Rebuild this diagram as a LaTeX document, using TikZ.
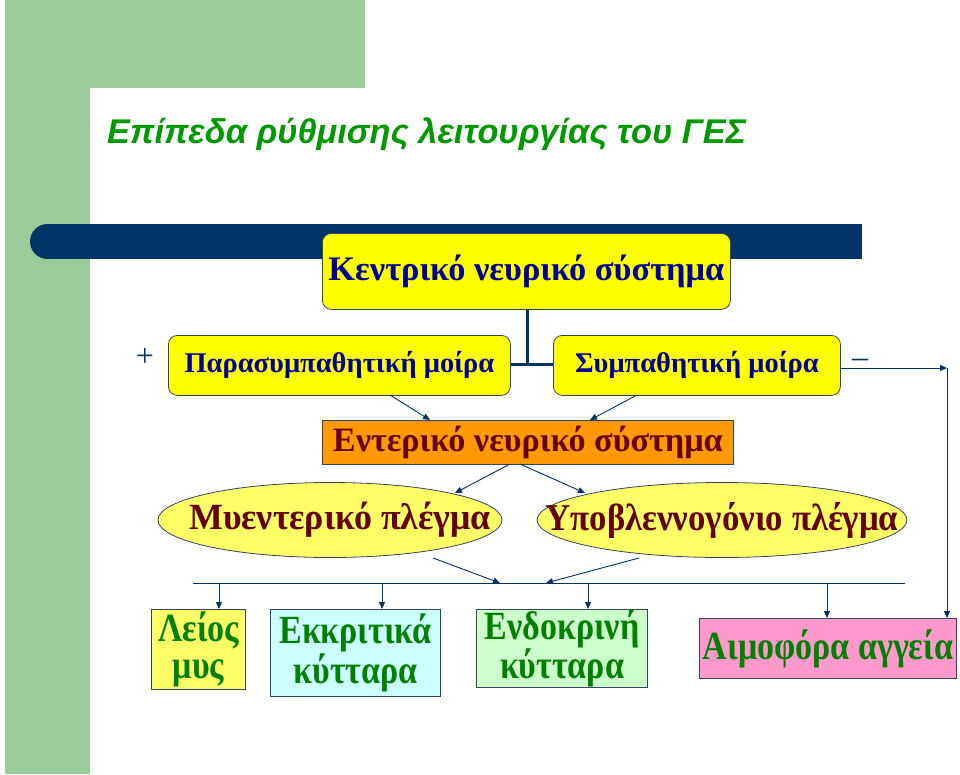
\documentclass[tikz,border=0pt]{standalone}
\usepackage{fontspec}
\setmainfont{Liberation Serif}
\newfontfamily\titlefont{Liberation Sans}
\newfontfamily\ovalfont[FakeStretch=0.92]{Liberation Serif}
\newfontfamily\ovalwidefont[FakeStretch=0.97]{Liberation Serif}
\newfontfamily\condfont[FakeStretch=0.85]{Liberation Serif}
\usetikzlibrary{shapes.geometric,arrows.meta}
\definecolor{bggreen}{HTML}{99CC99}
\definecolor{navy}{HTML}{003366}
\definecolor{ttlgreen}{HTML}{009900}
\definecolor{dblue}{HTML}{000099}
\definecolor{dred}{HTML}{660000}
\definecolor{tgreen}{HTML}{008000}
\definecolor{yfill}{HTML}{FFFF00}
\definecolor{lyfill}{HTML}{FFFF66}
\definecolor{orfill}{HTML}{FF9900}
\definecolor{cyfill}{HTML}{CCFFFF}
\definecolor{grfill}{HTML}{CCFFCC}
\definecolor{pkfill}{HTML}{FF99CC}
\definecolor{edge}{HTML}{334466}
\tikzset{
  ybox/.style={draw=edge, fill=yfill, rounded corners=9pt, line width=0.8pt, inner sep=0pt, anchor=north west, text=dblue},
  ovalnode/.style={ellipse, draw=edge, fill=lyfill, line width=0.8pt, inner sep=0pt, minimum height=75pt},
  ovaltext/.style={inner sep=0pt, font=\ovalfont\bfseries\fontsize{37.8}{39}\selectfont, text=dred},
  cellbox/.style={draw=edge, line width=1pt, inner sep=0pt, anchor=north west, font=\condfont\bfseries\fontsize{40}{37}\selectfont, text=tgreen, align=center},
  conn/.style={draw=navy, line width=0.9pt, -{Triangle[length=7pt,width=6pt]}},
}
\begin{document}
\begin{tikzpicture}[x=1pt,y=-1pt]
\useasboundingbox (0,0) rectangle (960,774);
% background
\fill[bggreen] (5,0) rectangle (365,88);
\fill[bggreen] (5,0) rectangle (90,774);
\fill[white, rounded corners=32pt] (90,88) rectangle (1100,900);
\fill[navy] (47.5,241.5) circle[radius=17.5];
\fill[navy] (47.5,224) rectangle (862,259);
% title
\node[anchor=base west, inner sep=0pt, text=ttlgreen, font=\titlefont\bfseries\itshape\fontsize{34.3}{36}\selectfont] (title) at (107,143) {Επίπεδα ρύθμισης λειτουργίας του ΓΕΣ};
% top nodes
\node[ybox, minimum width=408pt, minimum height=76pt, font=\bfseries\fontsize{34.4}{36}\selectfont] (cns) at (322,233) {Κεντρικό νευρικό σύστημα};
\node[ybox, minimum width=342pt, minimum height=60pt, font=\bfseries\fontsize{28.5}{30}\selectfont] (para) at (168,335) {Παρασυμπαθητική μοίρα};
\node[ybox, minimum width=287pt, minimum height=60pt, font=\bfseries\fontsize{28.5}{30}\selectfont] (symp) at (553,335) {Συμπαθητική μοίρα};
\coordinate (junc) at (527,364);
\draw[navy, line width=3pt] (cns.south -| junc) -- (junc);
\draw[navy, line width=3pt] (para.east |- junc) -- (symp.west |- junc);
\node[font=\fontsize{32}{34}\selectfont, text=navy, inner sep=0pt] (plus) at (145,357) {+};
\node[font=\fontsize{32}{34}\selectfont, text=navy, inner sep=0pt] (minus) at (860,363) {–};
% enteric
\node[draw=edge, fill=orfill, line width=0.8pt, inner sep=0pt, anchor=north west, minimum width=411pt, minimum height=44pt, font=\bfseries\fontsize{34.2}{36}\selectfont, text=dred] (ens) at (322,420) {Εντερικό νευρικό σύστημα};
\coordinate (p1) at (390,395);
\coordinate (p2) at (637,395);
\draw[conn] (p1) -- (430,420);
\draw[conn] (p2) -- (590,420);
% ellipses
\node[ovalnode, minimum width=344pt] (mye) at (330,520) {};
\node[ovaltext, font=\ovalwidefont\bfseries\fontsize{37}{39}\selectfont] (myet) at (340,520) {Μυεντερικό πλέγμα};
\node[ovalnode, minimum width=370pt] (sub) at (722,520) {};
\node[ovaltext] (subt) at (sub.center) {Υποβλεννογόνιο πλέγμα};
\draw[conn] (510,464) -- (455,493);
\draw[conn] (520,464) -- (585,493);
% bar
\coordinate (barL) at (193,583);
\coordinate (barR) at (905,583);
\draw[navy, line width=1pt] (barL) -- (barR);
\draw[conn] (433,558) -- (500,583);
\draw[conn] (639,558) -- (546,583);
% bottom cells
\node[cellbox, fill=lyfill, minimum width=94pt, minimum height=80pt] (smooth) at (151,609) {Λείος\\ μυς};
\node[cellbox, fill=cyfill, minimum width=170pt, minimum height=87pt] (secr) at (270,609) {Εκκριτικά\\ κύτταρα};
\node[cellbox, fill=grfill, minimum width=171pt, minimum height=78pt] (endo) at (476,609) {Ενδοκρινή\\ κύτταρα};
\node[cellbox, fill=pkfill, minimum width=257pt, minimum height=60pt] (vess) at (699,618) {Αιμοφόρα αγγεία};
\draw[conn] (219,583) -- (smooth.north -| 219,0);
\draw[conn] (382,583) -- (secr.north -| 382,0);
\draw[conn] (588,583) -- (endo.north -| 588,0);
\draw[conn] (827,583) -- (vess.north -| 827,0);
% feedback
\coordinate (fbc) at (947,368);
\draw[conn] (symp.east |- fbc) -- (fbc);
\draw[conn] (fbc) -- (vess.north -| fbc);
\end{tikzpicture}
\end{document}
